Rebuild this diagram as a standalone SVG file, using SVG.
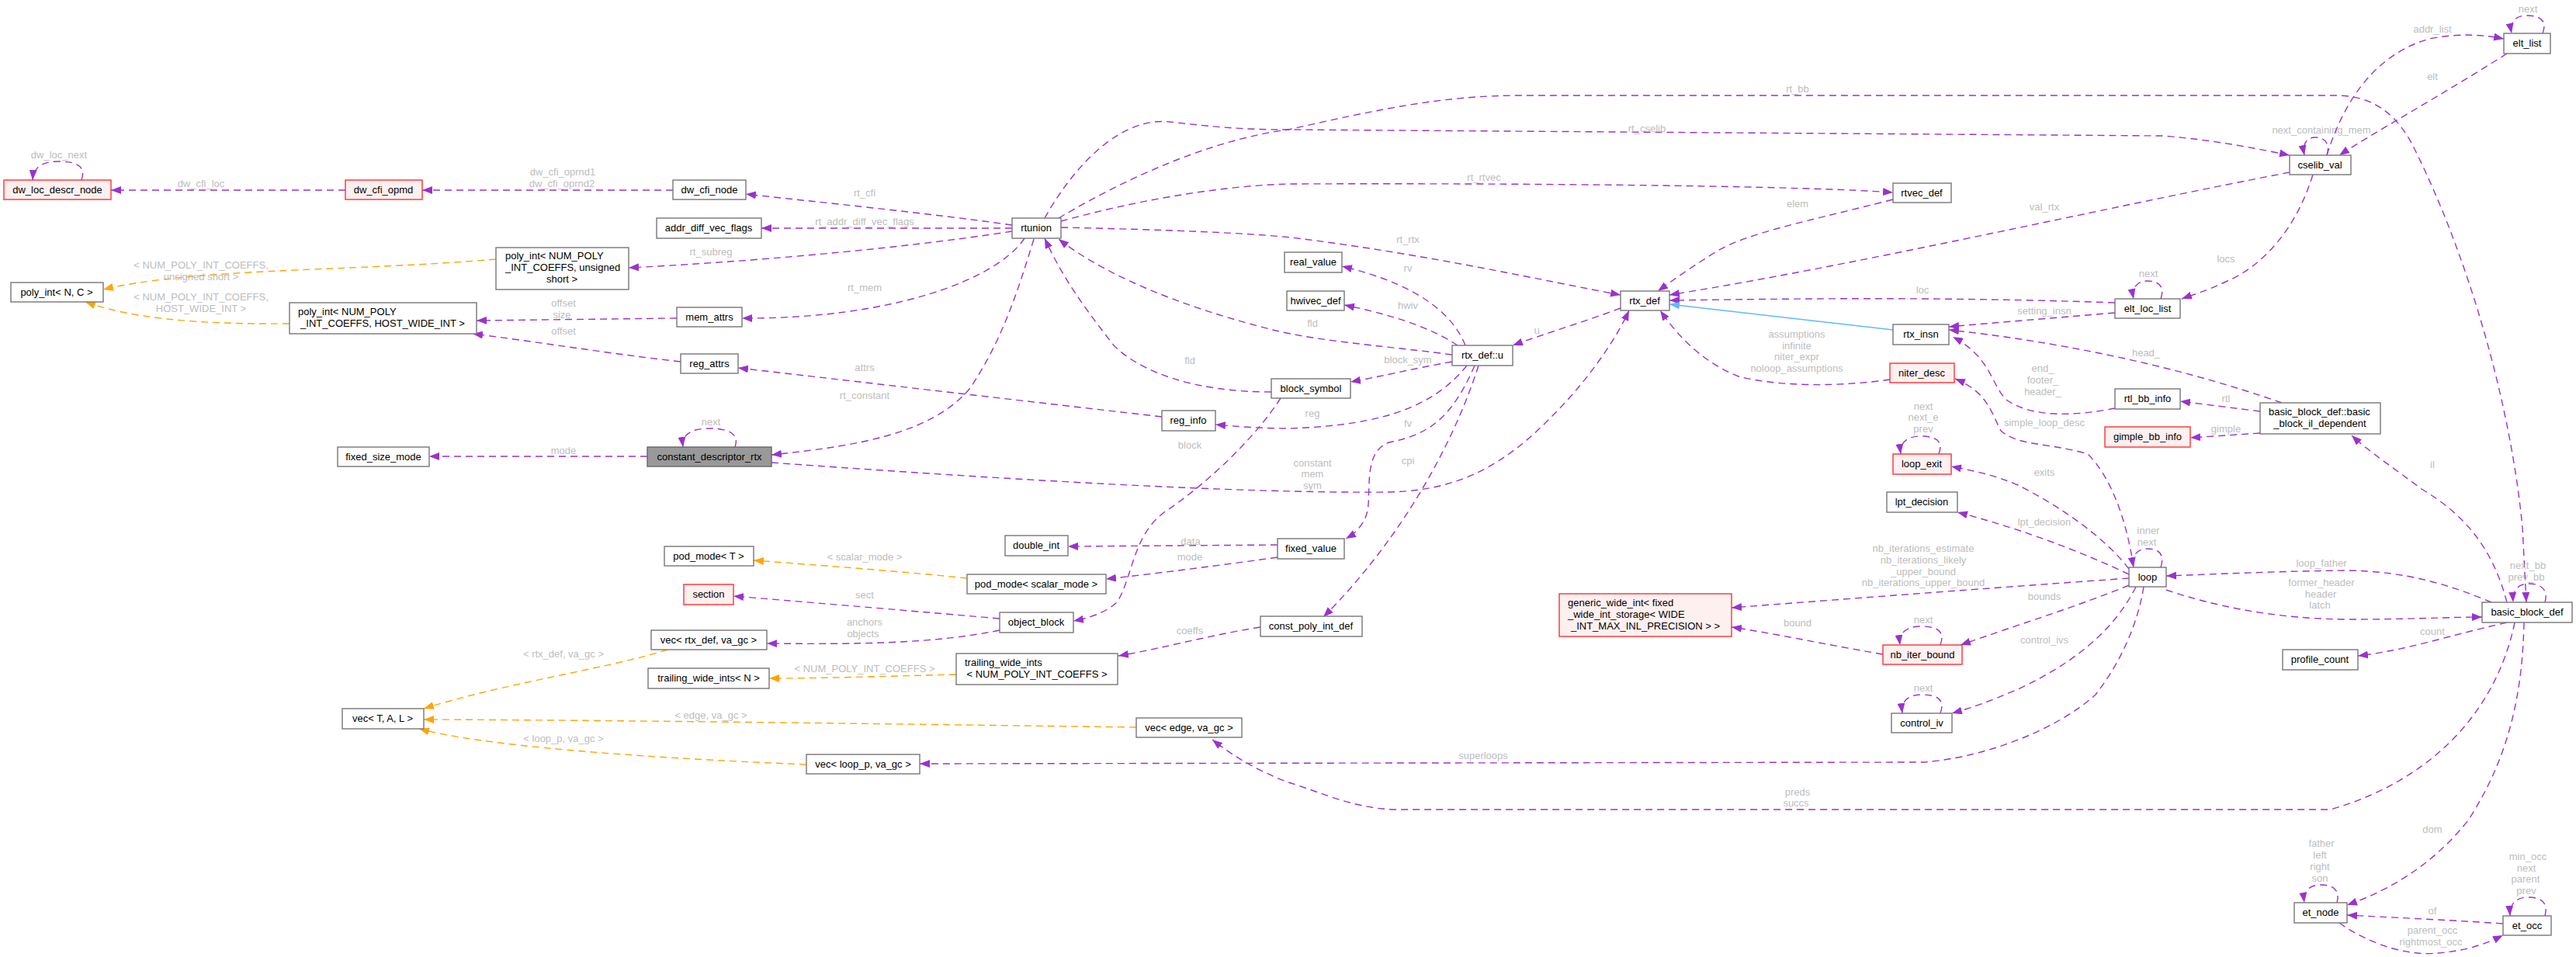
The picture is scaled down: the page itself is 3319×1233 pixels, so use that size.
<svg xmlns="http://www.w3.org/2000/svg" width="3319" height="1233" viewBox="0 0 3319 1233">
<style>
.nd rect{fill:#fff;stroke:#777;stroke-width:1.4}
.rd rect{fill:#fff0f0;stroke:#ff3030;stroke-width:1.4}
.rt rect{fill:#999;stroke:#666;stroke-width:1.4}
text{font-family:"Liberation Sans",Arial,sans-serif;font-size:13px}
.nd text,.rd text,.rt text{fill:#000;text-anchor:middle}
.lb{fill:#bdbdbd;text-anchor:middle}
.e{fill:none;stroke:#9a32cd;stroke-width:1.4;stroke-dasharray:9,6;marker-end:url(#ap)}
.o{fill:none;stroke:#ffa500;stroke-width:1.4;stroke-dasharray:9,6;marker-end:url(#ao)}
.b{fill:none;stroke:#63b8ff;stroke-width:1.4;marker-end:url(#ab)}
</style>
<defs>
<marker id="ap" viewBox="0 0 13 10" refX="13" refY="5" markerWidth="13" markerHeight="10" markerUnits="userSpaceOnUse" orient="auto"><path d="M0,0 L13,5 L0,10 z" fill="#9a32cd"/></marker>
<marker id="ao" viewBox="0 0 13 10" refX="13" refY="5" markerWidth="13" markerHeight="10" markerUnits="userSpaceOnUse" orient="auto"><path d="M0,0 L13,5 L0,10 z" fill="#ffa500"/></marker>
<marker id="ab" viewBox="0 0 13 10" refX="13" refY="5" markerWidth="13" markerHeight="10" markerUnits="userSpaceOnUse" orient="auto"><path d="M0,0 L13,5 L0,10 z" fill="#63b8ff"/></marker>
</defs>
<rect width="3319" height="1233" fill="#fff"/>
<g id="edges">
<path class="e" d="M105,232 C112,212 95,208 75,208 C55,208 43,215 42,232"/>
<text class="lb" x="76" y="204">dw_loc_next</text>
<path class="e" d="M445,245 L143,245"/>
<text class="lb" x="259" y="241">dw_cfi_loc</text>
<path class="e" d="M867,245 L544,245"/>
<text class="lb" x="725" y="226">dw_cfi_oprnd1</text>
<text class="lb" x="724" y="241">dw_cfi_oprnd2</text>
<path class="e" d="M1304,290 C1200,275 1050,260 961,250"/>
<text class="lb" x="1114" y="253">rt_cfi</text>
<path class="e" d="M1304,294 L981,294"/>
<text class="lb" x="1114" y="290">rt_addr_diff_vec_flags</text>
<path class="e" d="M1304,298 C1150,322 950,338 810,345"/>
<text class="lb" x="916" y="329">rt_subreg</text>
<path class="e" d="M1320,307 C1285,360 1150,411 956,410"/>
<text class="lb" x="1114" y="375">rt_mem</text>
<path class="o" d="M639,334 C450,350 250,345 133,373"/>
<text class="lb" x="259" y="346">&lt; NUM_POLY_INT_COEFFS,</text>
<text class="lb" x="259" y="361">unsigned short &gt;</text>
<path class="o" d="M373,417 C250,418 170,410 110,389"/>
<text class="lb" x="259" y="387">&lt; NUM_POLY_INT_COEFFS,</text>
<text class="lb" x="259" y="402">HOST_WIDE_INT &gt;</text>
<path class="e" d="M872,410 L614,413"/>
<text class="lb" x="726" y="395">offset</text>
<text class="lb" x="724" y="410">size</text>
<path class="e" d="M877,466 C780,455 690,440 609,430"/>
<text class="lb" x="726" y="431">offset</text>
<path class="e" d="M1497,537 L951,474"/>
<text class="lb" x="1114" y="478">attrs</text>
<path class="e" d="M1332,308 C1310,380 1290,440 1250,500 C1200,560 1100,575 994,586"/>
<text class="lb" x="1114" y="514">rt_constant</text>
<path class="e" d="M947,576 C953,560 940,552 915,552 C890,552 878,560 880,576"/>
<text class="lb" x="916" y="548">next</text>
<path class="e" d="M834,588 L553,588"/>
<text class="lb" x="726" y="585">mode</text>
<path class="e" d="M994,596 C1300,618 1600,636 1790,634 C1900,632 1960,580 2020,515 C2060,470 2085,430 2099,400"/>
<text class="lb" x="1691" y="601">constant</text>
<text class="lb" x="1691" y="615">mem</text>
<text class="lb" x="1691" y="630">sym</text>
<path class="e" d="M2435,489 C2380,497 2300,500 2240,485 C2190,465 2160,430 2139,400"/>
<text class="lb" x="2315" y="435">assumptions</text>
<text class="lb" x="2315" y="450">infinite</text>
<text class="lb" x="2315" y="464">niter_expr</text>
<text class="lb" x="2315" y="479">noloop_assumptions</text>
<path class="e" d="M1871,457 C1780,445 1700,440 1640,425 C1540,400 1430,360 1364,308"/>
<text class="lb" x="1691" y="421">fld</text>
<path class="e" d="M1638,505 C1540,505 1470,480 1435,445 C1400,400 1370,360 1346,307"/>
<text class="lb" x="1533" y="469">fld</text>
<path class="e" d="M2088,397 C2040,415 1990,430 1949,445"/>
<text class="lb" x="1980" y="430">u</text>
<path class="e" d="M1888,445 C1870,400 1820,365 1729,343"/>
<text class="lb" x="1814" y="350">rv</text>
<path class="e" d="M1878,445 C1840,420 1790,405 1732,393"/>
<text class="lb" x="1814" y="398">hwiv</text>
<path class="e" d="M1871,466 C1820,475 1780,485 1740,492"/>
<text class="lb" x="1814" y="468">block_sym</text>
<path class="e" d="M1890,471 C1850,520 1790,548 1660,552 C1620,552 1590,549 1566,547"/>
<text class="lb" x="1691" y="537">reg</text>
<path class="e" d="M1900,471 C1870,540 1840,560 1790,570 C1760,580 1765,620 1763,650 C1762,670 1750,685 1734,694"/>
<text class="lb" x="1814" y="550">fv</text>
<path class="e" d="M1905,471 C1870,580 1800,700 1705,795"/>
<text class="lb" x="1814" y="598">cpi</text>
<path class="e" d="M1650,513 C1620,560 1560,620 1500,660 C1460,690 1460,740 1440,775 C1425,790 1400,797 1383,800"/>
<text class="lb" x="1533" y="578">block</text>
<path class="e" d="M1646,702 L1376,704"/>
<text class="lb" x="1534" y="702">data</text>
<path class="e" d="M1646,718 C1560,730 1480,740 1425,746"/>
<text class="lb" x="1533" y="722">mode</text>
<path class="o" d="M1246,745 C1150,735 1050,728 971,722"/>
<text class="lb" x="1114" y="722">&lt; scalar_mode &gt;</text>
<path class="e" d="M1288,797 C1150,785 1030,775 945,768"/>
<text class="lb" x="1114" y="771">sect</text>
<path class="e" d="M1288,812 C1200,830 1100,830 988,829"/>
<text class="lb" x="1114" y="806">anchors</text>
<text class="lb" x="1112" y="821">objects</text>
<path class="o" d="M860,837 C790,860 650,880 546,913"/>
<text class="lb" x="726" y="847">&lt; rtx_def, va_gc &gt;</text>
<path class="e" d="M1624,808 C1550,820 1500,835 1441,845"/>
<text class="lb" x="1533" y="817">coeffs</text>
<path class="o" d="M1232,869 C1120,872 1050,874 991,874"/>
<text class="lb" x="1114" y="866">&lt; NUM_POLY_INT_COEFFS &gt;</text>
<path class="o" d="M1464,937 C1100,932 800,928 546,927"/>
<text class="lb" x="916" y="926">&lt; edge, va_gc &gt;</text>
<path class="o" d="M1039,985 C800,975 620,960 540,939"/>
<text class="lb" x="726" y="956">&lt; loop_p, va_gc &gt;</text>
<path class="e" d="M2762,756 C2755,800 2735,850 2700,895 C2650,940 2560,975 2480,982 L1185,984"/>
<text class="lb" x="1911" y="978">superloops</text>
<path class="e" d="M3240,802 C3220,900 3150,1000 3003,1043 L1793,1043 C1740,1040 1700,1020 1660,1008 C1620,993 1590,975 1562,953"/>
<text class="lb" x="2316" y="1025">preds</text>
<text class="lb" x="2314" y="1039">succs</text>
<path class="e" d="M1367,293 C1500,296 1620,300 1680,308 C1850,330 1980,360 2088,380"/>
<text class="lb" x="1814" y="313">rt_rtx</text>
<path class="e" d="M1367,285 C1450,262 1560,240 1660,237 C1900,236 2300,238 2439,248"/>
<text class="lb" x="1912" y="233">rt_rtvec</text>
<path class="e" d="M2439,257 C2330,285 2250,300 2210,325 C2170,350 2150,365 2136,375"/>
<text class="lb" x="2316" y="267">elem</text>
<path class="e" d="M1346,281 C1380,220 1440,150 1507,157 C1570,164 1600,167 1660,167 L2786,175 C2850,180 2900,190 2950,200"/>
<text class="lb" x="2122" y="170">rt_cselib</text>
<path class="e" d="M1364,281 C1450,230 1560,180 1660,167 C1780,140 1860,123 1960,123 L3010,123 C3060,123 3090,150 3110,190 C3180,330 3235,520 3250,680 L3255,776"/>
<text class="lb" x="2316" y="119">rt_bb</text>
<path class="e" d="M2998,200 C3003,185 2995,177 2983,177 C2972,177 2966,185 2969,200"/>
<text class="lb" x="2991" y="172">next_containing_mem</text>
<path class="e" d="M2998,200 C3020,130 3060,70 3130,50 C3170,42 3200,45 3226,50"/>
<text class="lb" x="3134" y="42">addr_list</text>
<path class="e" d="M3230,69 C3150,120 3060,170 3014,200"/>
<text class="lb" x="3134" y="103">elt</text>
<path class="e" d="M3276,43 C3283,25 3270,20 3256,20 C3242,20 3233,27 3236,43"/>
<text class="lb" x="3257" y="16">next</text>
<path class="e" d="M2950,222 C2700,270 2400,340 2151,380"/>
<text class="lb" x="2634" y="271">val_rtx</text>
<path class="e" d="M2980,225 C2960,290 2920,340 2870,362 C2845,374 2825,380 2811,385"/>
<text class="lb" x="2868" y="338">locs</text>
<path class="e" d="M2784,385 C2790,368 2780,362 2767,362 C2754,362 2746,370 2749,385"/>
<text class="lb" x="2768" y="357">next</text>
<path class="e" d="M2725,390 C2500,382 2300,385 2151,387"/>
<text class="lb" x="2477" y="378">loc</text>
<path class="e" d="M2725,403 C2640,410 2580,415 2511,421"/>
<text class="lb" x="2634" y="405">setting_insn</text>
<path class="b" d="M2439,425 L2151,392"/>
<path class="e" d="M2940,519 C2800,470 2650,440 2511,425"/>
<text class="lb" x="2765" y="459">head_</text>
<path class="e" d="M2725,526 C2680,535 2620,540 2585,515 C2565,495 2565,460 2516,434"/>
<text class="lb" x="2632" y="479">end_</text>
<text class="lb" x="2632" y="494">footer_</text>
<text class="lb" x="2632" y="509">header_</text>
<path class="e" d="M2912,530 L2809,517"/>
<text class="lb" x="2868" y="518">rtl</text>
<path class="e" d="M2912,558 L2822,564"/>
<text class="lb" x="2868" y="557">gimple</text>
<path class="e" d="M2749,731 C2740,670 2720,615 2690,585 C2640,570 2600,575 2578,555 C2565,530 2560,505 2519,488"/>
<text class="lb" x="2634" y="549">simple_loop_desc</text>
<path class="e" d="M2498,585 C2505,567 2492,562 2475,562 C2458,562 2447,570 2449,585"/>
<text class="lb" x="2478" y="528">next</text>
<text class="lb" x="2478" y="542">next_e</text>
<text class="lb" x="2478" y="557">prev</text>
<path class="e" d="M2743,733 C2710,690 2650,650 2600,625 C2570,612 2545,607 2514,601"/>
<text class="lb" x="2634" y="613">exits</text>
<path class="e" d="M2743,740 C2680,710 2600,680 2522,660"/>
<text class="lb" x="2634" y="677">lpt_decision</text>
<path class="e" d="M2784,731 C2790,713 2780,707 2767,707 C2754,707 2746,715 2749,731"/>
<text class="lb" x="2768" y="688">inner</text>
<text class="lb" x="2766" y="703">next</text>
<path class="e" d="M2743,745 C2600,755 2400,770 2231,783"/>
<text class="lb" x="2478" y="711">nb_iterations_estimate</text>
<text class="lb" x="2478" y="726">nb_iterations_likely</text>
<text class="lb" x="2478" y="741">_upper_bound</text>
<text class="lb" x="2478" y="755">nb_iterations_upper_bound</text>
<path class="e" d="M2426,843 C2350,830 2280,815 2231,808"/>
<text class="lb" x="2316" y="807">bound</text>
<path class="e" d="M2500,831 C2507,812 2494,807 2475,807 C2457,807 2446,815 2448,831"/>
<text class="lb" x="2478" y="803">next</text>
<path class="e" d="M2743,754 C2680,780 2600,805 2526,831"/>
<text class="lb" x="2634" y="773">bounds</text>
<path class="e" d="M2752,756 C2720,820 2660,860 2600,888 C2560,905 2540,912 2515,919"/>
<text class="lb" x="2634" y="829">control_ivs</text>
<path class="e" d="M2500,919 C2507,900 2494,895 2476,895 C2459,895 2449,903 2451,919"/>
<text class="lb" x="2478" y="891">next</text>
<path class="e" d="M2791,760 C2850,780 2930,798 3030,798 C3100,798 3160,795 3198,795"/>
<text class="lb" x="2991" y="755">former_header</text>
<text class="lb" x="2990" y="770">header</text>
<text class="lb" x="2989" y="784">latch</text>
<path class="e" d="M3210,776 C3160,755 3100,735 3020,735 C2930,736 2850,740 2791,742"/>
<text class="lb" x="2991" y="730">loop_father</text>
<path class="e" d="M3230,776 C3210,700 3170,660 3120,630 C3080,600 3050,580 3030,561"/>
<text class="lb" x="3134" y="603">il</text>
<path class="e" d="M3279,776 C3284,758 3272,752 3258,752 C3245,752 3237,760 3238,776"/>
<text class="lb" x="3257" y="733">next_bb</text>
<text class="lb" x="3255" y="748">prev_bb</text>
<path class="e" d="M3230,802 C3150,820 3100,838 3038,845"/>
<text class="lb" x="3134" y="818">count</text>
<path class="e" d="M3252,802 C3250,900 3230,980 3180,1057 C3130,1120 3070,1150 3024,1166"/>
<text class="lb" x="3134" y="1073">dom</text>
<path class="e" d="M3011,1163 C3016,1145 3004,1140 2990,1140 C2976,1140 2967,1148 2969,1163"/>
<text class="lb" x="2991" y="1091">father</text>
<text class="lb" x="2989" y="1106">left</text>
<text class="lb" x="2989" y="1121">right</text>
<text class="lb" x="2989" y="1136">son</text>
<path class="e" d="M3279,1180 C3284,1161 3272,1156 3257,1156 C3243,1156 3233,1164 3234,1180"/>
<text class="lb" x="3257" y="1108">min_occ</text>
<text class="lb" x="3255" y="1123">next</text>
<text class="lb" x="3254" y="1137">parent</text>
<text class="lb" x="3255" y="1152">prev</text>
<path class="e" d="M3225,1190 C3150,1185 3080,1182 3024,1179"/>
<text class="lb" x="3134" y="1178">of</text>
<path class="e" d="M3014,1189 C3050,1215 3100,1232 3140,1228 C3180,1225 3205,1215 3225,1205"/>
<text class="lb" x="3134" y="1203">parent_occ</text>
<text class="lb" x="3132" y="1218">rightmost_occ</text>
</g>
<g id="n-dw_loc_descr_node" class="rd"><rect x="5" y="232" width="138" height="25"/><text x="74" y="249">dw_loc_descr_node</text></g>
<g id="n-dw_cfi_opmd" class="rd"><rect x="445" y="232" width="99" height="25"/><text x="494" y="249">dw_cfi_opmd</text></g>
<g id="n-dw_cfi_node" class="nd"><rect x="867" y="232" width="94" height="25"/><text x="914" y="249">dw_cfi_node</text></g>
<g id="n-addr_diff_vec_flags" class="nd"><rect x="846" y="281" width="135" height="26"/><text x="913" y="298">addr_diff_vec_flags</text></g>
<g id="n-rtunion" class="nd"><rect x="1304" y="281" width="63" height="26"/><text x="1335" y="298">rtunion</text></g>
<g id="n-poly_int_NC" class="nd"><rect x="14" y="364" width="119" height="25"/><text x="73" y="381">poly_int&lt; N, C &gt;</text></g>
<g id="n-poly_int_us" class="nd"><rect x="639" y="319" width="171" height="54"/><text x="651" y="334" style="text-anchor:start">poly_int&lt; NUM_POLY</text><text x="651" y="349" style="text-anchor:start">_INT_COEFFS, unsigned</text><text x="724" y="364">short &gt;</text></g>
<g id="n-poly_int_hwi" class="nd"><rect x="373" y="390" width="241" height="40"/><text x="384" y="406" style="text-anchor:start">poly_int&lt; NUM_POLY</text><text x="493" y="421">_INT_COEFFS, HOST_WIDE_INT &gt;</text></g>
<g id="n-mem_attrs" class="nd"><rect x="872" y="396" width="84" height="25"/><text x="914" y="413">mem_attrs</text></g>
<g id="n-reg_attrs" class="nd"><rect x="877" y="456" width="74" height="25"/><text x="914" y="473">reg_attrs</text></g>
<g id="n-fixed_size_mode" class="nd"><rect x="435" y="576" width="118" height="25"/><text x="494" y="593">fixed_size_mode</text></g>
<g id="n-constant_descriptor_rtx" class="rt"><rect x="834" y="576" width="160" height="25"/><text x="914" y="593">constant_descriptor_rtx</text></g>
<g id="n-reg_info" class="nd"><rect x="1497" y="529" width="69" height="26"/><text x="1531" y="546">reg_info</text></g>
<g id="n-block_symbol" class="nd"><rect x="1638" y="488" width="102" height="25"/><text x="1689" y="505">block_symbol</text></g>
<g id="n-real_value" class="nd"><rect x="1655" y="325" width="74" height="26"/><text x="1692" y="342">real_value</text></g>
<g id="n-hwivec_def" class="nd"><rect x="1658" y="375" width="74" height="25"/><text x="1695" y="392">hwivec_def</text></g>
<g id="n-rtx_def_u" class="nd"><rect x="1871" y="445" width="78" height="26"/><text x="1910" y="462">rtx_def::u</text></g>
<g id="n-rtx_def" class="nd"><rect x="2088" y="375" width="63" height="25"/><text x="2119" y="392">rtx_def</text></g>
<g id="n-rtvec_def" class="nd"><rect x="2439" y="236" width="75" height="25"/><text x="2476" y="253">rtvec_def</text></g>
<g id="n-cselib_val" class="nd"><rect x="2950" y="200" width="79" height="25"/><text x="2989" y="217">cselib_val</text></g>
<g id="n-elt_list" class="nd"><rect x="3226" y="43" width="60" height="26"/><text x="3256" y="60">elt_list</text></g>
<g id="n-elt_loc_list" class="nd"><rect x="2725" y="385" width="84" height="25"/><text x="2767" y="402">elt_loc_list</text></g>
<g id="n-rtx_insn" class="nd"><rect x="2439" y="418" width="72" height="26"/><text x="2475" y="435">rtx_insn</text></g>
<g id="n-niter_desc" class="rd"><rect x="2435" y="468" width="83" height="25"/><text x="2476" y="485">niter_desc</text></g>
<g id="n-rtl_bb_info" class="nd"><rect x="2725" y="501" width="84" height="26"/><text x="2767" y="518">rtl_bb_info</text></g>
<g id="n-bb_il_dependent" class="nd"><rect x="2912" y="519" width="155" height="40"/><text x="2923" y="535" style="text-anchor:start">basic_block_def::basic</text><text x="2989" y="550">_block_il_dependent</text></g>
<g id="n-gimple_bb_info" class="rd"><rect x="2712" y="550" width="110" height="26"/><text x="2767" y="567">gimple_bb_info</text></g>
<g id="n-loop_exit" class="rd"><rect x="2439" y="585" width="75" height="26"/><text x="2476" y="602">loop_exit</text></g>
<g id="n-lpt_decision" class="nd"><rect x="2431" y="634" width="91" height="26"/><text x="2476" y="651">lpt_decision</text></g>
<g id="n-loop" class="nd"><rect x="2743" y="731" width="48" height="25"/><text x="2767" y="748">loop</text></g>
<g id="n-basic_block_def" class="nd"><rect x="3198" y="776" width="116" height="26"/><text x="3256" y="793">basic_block_def</text></g>
<g id="n-generic_wide_int" class="rd"><rect x="2009" y="765" width="222" height="55"/><text x="2020" y="781" style="text-anchor:start">generic_wide_int&lt; fixed</text><text x="2020" y="796" style="text-anchor:start">_wide_int_storage&lt; WIDE</text><text x="2120" y="811">_INT_MAX_INL_PRECISION &gt; &gt;</text></g>
<g id="n-nb_iter_bound" class="rd"><rect x="2426" y="831" width="102" height="25"/><text x="2477" y="848">nb_iter_bound</text></g>
<g id="n-profile_count" class="nd"><rect x="2941" y="837" width="97" height="26"/><text x="2989" y="854">profile_count</text></g>
<g id="n-control_iv" class="nd"><rect x="2437" y="919" width="78" height="25"/><text x="2476" y="936">control_iv</text></g>
<g id="n-et_node" class="nd"><rect x="2956" y="1163" width="68" height="26"/><text x="2990" y="1180">et_node</text></g>
<g id="n-et_occ" class="nd"><rect x="3225" y="1180" width="62" height="25"/><text x="3256" y="1197">et_occ</text></g>
<g id="n-double_int" class="nd"><rect x="1295" y="690" width="81" height="26"/><text x="1335" y="707">double_int</text></g>
<g id="n-fixed_value" class="nd"><rect x="1646" y="694" width="86" height="26"/><text x="1689" y="711">fixed_value</text></g>
<g id="n-pod_mode_T" class="nd"><rect x="856" y="704" width="115" height="25"/><text x="913" y="721">pod_mode&lt; T &gt;</text></g>
<g id="n-pod_mode_scalar" class="nd"><rect x="1246" y="740" width="179" height="25"/><text x="1335" y="757">pod_mode&lt; scalar_mode &gt;</text></g>
<g id="n-section" class="rd"><rect x="881" y="753" width="64" height="26"/><text x="913" y="770">section</text></g>
<g id="n-object_block" class="nd"><rect x="1288" y="789" width="95" height="26"/><text x="1335" y="806">object_block</text></g>
<g id="n-vec_rtx_def" class="nd"><rect x="839" y="812" width="149" height="25"/><text x="913" y="829">vec&lt; rtx_def, va_gc &gt;</text></g>
<g id="n-const_poly_int_def" class="nd"><rect x="1624" y="794" width="131" height="26"/><text x="1689" y="811">const_poly_int_def</text></g>
<g id="n-trailing_num" class="nd"><rect x="1232" y="842" width="208" height="40"/><text x="1243" y="858" style="text-anchor:start">trailing_wide_ints</text><text x="1336" y="873">&lt; NUM_POLY_INT_COEFFS &gt;</text></g>
<g id="n-trailing_N" class="nd"><rect x="835" y="861" width="156" height="26"/><text x="913" y="878">trailing_wide_ints&lt; N &gt;</text></g>
<g id="n-vec_TAL" class="nd"><rect x="441" y="913" width="105" height="26"/><text x="493" y="930">vec&lt; T, A, L &gt;</text></g>
<g id="n-vec_edge" class="nd"><rect x="1464" y="925" width="136" height="25"/><text x="1532" y="942">vec&lt; edge, va_gc &gt;</text></g>
<g id="n-vec_loop_p" class="nd"><rect x="1039" y="972" width="146" height="25"/><text x="1112" y="989">vec&lt; loop_p, va_gc &gt;</text></g>
</svg>
